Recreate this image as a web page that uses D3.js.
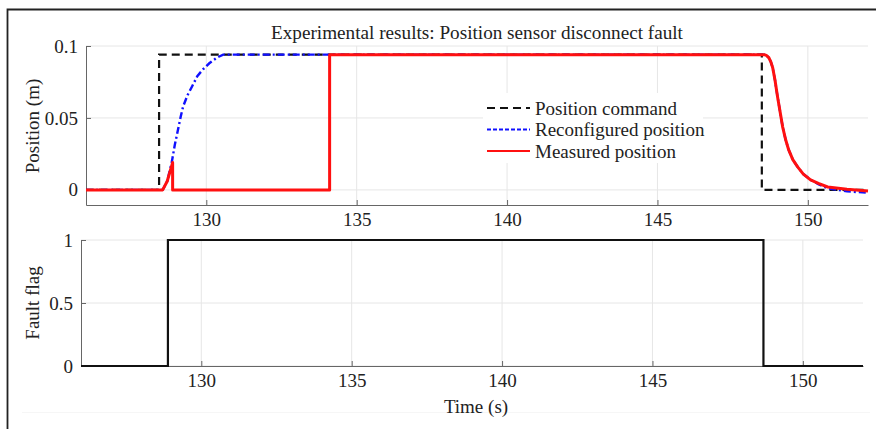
<!DOCTYPE html>
<html>
<head>
<meta charset="utf-8">
<script src="https://cdn.jsdelivr.net/npm/d3@7"></script>
<style>
  body { margin: 0; background: #fff; }
  svg { display: block; font-family: "Liberation Serif", "DejaVu Serif", serif; }
</style>
</head>
<body>
<div class="chartContainer"></div>
<script>
// tick values
var timeTicks = [130, 135, 140, 145, 150];
var posTicks = [0, 0.05, 0.1];
var flagTicks = [0, 0.5, 1];

// position command (s, m)
var commandTime = [126, 128.43, 128.43, 148.47, 148.47, 152];
var commandPos = [0, 0, 0.094, 0.094, 0, 0];

// reconfigured position (s, m)
var reconfTime = [126, 128.55, 128.7, 128.85, 128.95, 129.06, 129.15, 129.23, 129.38, 129.53, 129.7, 129.9,
    130.1, 130.36, 130.56, 131.5,
    148.55, 148.62, 148.7, 148.77, 148.83, 148.91, 148.99, 149.08, 149.16, 149.26, 149.36, 149.5,
    149.66, 149.85, 150.09, 150.35, 150.66, 151.3, 152];
var reconfPos = [0, 0, 0.006, 0.019, 0.031, 0.042, 0.051, 0.058, 0.066, 0.072, 0.079, 0.084,
    0.088, 0.092, 0.094, 0.094,
    0.094, 0.0935, 0.092, 0.089, 0.085, 0.076, 0.065, 0.054, 0.044, 0.035, 0.028, 0.021,
    0.016, 0.011, 0.007, 0.004, 0.001, -0.001, -0.002];

// measured position (s, m)
var measTime = [126, 128.55, 128.7, 128.88, 128.88, 134.1, 134.1,
    148.55, 148.62, 148.7, 148.77, 148.83, 148.91, 148.99, 149.08, 149.16, 149.26, 149.36, 149.5,
    149.66, 149.85, 150.09, 150.35, 150.66, 151.3, 152];
var measPos = [0, 0, 0.006, 0.019, 0, 0, 0.094,
    0.094, 0.0935, 0.092, 0.089, 0.085, 0.076, 0.065, 0.054, 0.044, 0.035, 0.028, 0.021,
    0.016, 0.011, 0.007, 0.0045, 0.002, 0.0005, -0.0007];

// fault flag
var flagTime = [126, 128.89, 128.89, 148.69, 148.69, 152];
var flagVal = [0, 0, 1, 1, 0, 0];

var legendLabels = ['Position command', 'Reconfigured position', 'Measured position'];

var svgWidth = 876;
var svgHeight = 429;
var fontSize = 19;

var svg = d3.select('div.chartContainer').append('svg')
    .attr('width', svgWidth).attr('height', svgHeight);

// frame
svg.append('line')
    .attr('x1', 22).attr('x2', 870).attr('y1', 412.5).attr('y2', 412.5)
    .attr('stroke', '#f6f6f6');
svg.append('path')
    .attr('d', 'M7.5,' + svgHeight + 'V9.5H' + svgWidth)
    .attr('fill', 'none').attr('stroke', '#222').attr('stroke-width', 1.8);

function zip(xs, ys) {
    return xs.map(function(x, i) { return [x, ys[i]]; });
}

function styleAxis(g) {
    g.select('.domain').attr('stroke', '#666');
    g.selectAll('.tick line').attr('stroke', '#666');
    g.selectAll('.tick text')
        .attr('font-family', '"Liberation Serif", serif')
        .attr('font-size', fontSize)
        .attr('fill', '#222');
}

// ---- top panel
var x1 = d3.scaleLinear().domain([126, 152]).range([86, 868]);
var y1 = d3.scaleLinear().domain([-0.0105, 0.1]).range([205, 46]);

var g1 = svg.append('g');

g1.selectAll('line.vgrid').data(timeTicks).enter().append('line')
    .attr('x1', function(d) { return x1(d); }).attr('x2', function(d) { return x1(d); })
    .attr('y1', 46).attr('y2', 205)
    .attr('stroke', '#e6e6e6');
g1.selectAll('line.hgrid').data(posTicks).enter().append('line')
    .attr('x1', 86).attr('x2', 868)
    .attr('y1', function(d) { return y1(d); }).attr('y2', function(d) { return y1(d); })
    .attr('stroke', '#e6e6e6');

g1.append('g').attr('transform', 'translate(0,205)')
    .call(d3.axisBottom(x1).tickValues(timeTicks).tickSizeInner(-5).tickSizeOuter(0).tickPadding(8))
    .call(styleAxis);
g1.append('g').attr('transform', 'translate(86,0)')
    .call(d3.axisLeft(y1).tickValues(posTicks).tickSizeInner(-5).tickSizeOuter(0).tickPadding(8)
        .tickFormat(function(d) { return d3.format('')(d); }))
    .call(styleAxis);

var line1 = d3.line()
    .x(function(d) { return x1(d[0]); })
    .y(function(d) { return y1(d[1]); });

g1.append('path').datum(zip(commandTime, commandPos))
    .attr('d', line1).attr('fill', 'none')
    .attr('stroke', '#111').attr('stroke-width', 2.2).attr('stroke-dasharray', '8,5');
g1.append('path').datum(zip(reconfTime, reconfPos))
    .attr('d', line1).attr('fill', 'none')
    .attr('stroke', '#1010ff').attr('stroke-width', 2.4).attr('stroke-dasharray', '7,3,2,3');
g1.append('path').datum(zip(measTime, measPos))
    .attr('d', line1).attr('fill', 'none')
    .attr('stroke', '#ff1010').attr('stroke-width', 3).attr('stroke-linejoin', 'round');

// legend
var legend = svg.append('g');
legend.append('rect')
    .attr('x', 483).attr('y', 93).attr('width', 220).attr('height', 70).attr('fill', '#fff');
var legendStyles = [
    { color: '#111', dash: '8,5' },
    { color: '#1010ff', dash: '4,2' },
    { color: '#ff1010', dash: null }
];
legend.selectAll('line.key').data(legendLabels).enter().append('line')
    .attr('x1', 487).attr('x2', 530)
    .attr('y1', function(d, i) { return 108 + i * 21.5; })
    .attr('y2', function(d, i) { return 108 + i * 21.5; })
    .attr('stroke', function(d, i) { return legendStyles[i].color; })
    .attr('stroke-width', 2.2)
    .attr('stroke-dasharray', function(d, i) { return legendStyles[i].dash; });
legend.selectAll('text').data(legendLabels).enter().append('text')
    .attr('x', 535)
    .attr('y', function(d, i) { return 108 + i * 21.5; })
    .attr('dy', '0.35em')
    .attr('font-size', fontSize).attr('fill', '#222')
    .text(function(d) { return d; });

// title + label
svg.append('text').attr('x', 477).attr('y', 39).attr('text-anchor', 'middle')
    .attr('font-size', 19.2).attr('fill', '#222')
    .text('Experimental results: Position sensor disconnect fault');
svg.append('text').attr('transform', 'translate(39,126) rotate(-90)')
    .attr('text-anchor', 'middle').attr('font-size', fontSize).attr('fill', '#222')
    .text('Position (m)');

// ---- bottom panel
var x2 = d3.scaleLinear().domain([126, 152]).range([81, 863]);
var y2 = d3.scaleLinear().domain([0, 1]).range([366, 240]);

var g2 = svg.append('g');

g2.selectAll('line.vgrid').data(timeTicks).enter().append('line')
    .attr('x1', function(d) { return x2(d); }).attr('x2', function(d) { return x2(d); })
    .attr('y1', 240).attr('y2', 366)
    .attr('stroke', '#e6e6e6');
g2.selectAll('line.hgrid').data(flagTicks).enter().append('line')
    .attr('x1', 81).attr('x2', 863)
    .attr('y1', function(d) { return y2(d); }).attr('y2', function(d) { return y2(d); })
    .attr('stroke', '#e6e6e6');

g2.append('g').attr('transform', 'translate(0,366)')
    .call(d3.axisBottom(x2).tickValues(timeTicks).tickSizeInner(-5).tickSizeOuter(0).tickPadding(8))
    .call(styleAxis);
g2.append('g').attr('transform', 'translate(81,0)')
    .call(d3.axisLeft(y2).tickValues(flagTicks).tickSizeInner(-5).tickSizeOuter(0).tickPadding(8)
        .tickFormat(function(d) { return d3.format('')(d); }))
    .call(styleAxis);

var line2 = d3.line()
    .x(function(d) { return x2(d[0]); })
    .y(function(d) { return y2(d[1]); });

g2.append('path').datum(zip(flagTime, flagVal))
    .attr('d', line2).attr('fill', 'none')
    .attr('stroke', '#111').attr('stroke-width', 2.2);

svg.append('text').attr('transform', 'translate(39,303) rotate(-90)')
    .attr('text-anchor', 'middle').attr('font-size', fontSize).attr('fill', '#222')
    .text('Fault flag');
svg.append('text').attr('x', 476).attr('y', 413).attr('text-anchor', 'middle')
    .attr('font-size', fontSize).attr('fill', '#222')
    .text('Time (s)');
</script>
</body>
</html>
